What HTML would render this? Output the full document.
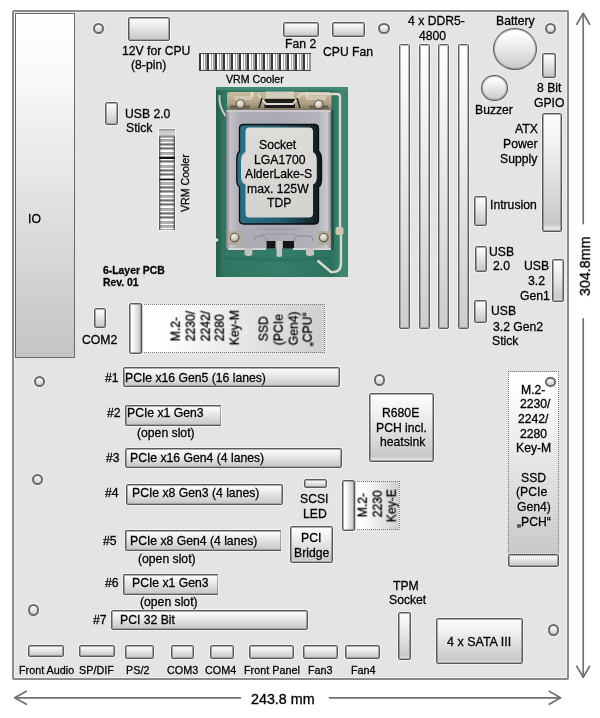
<!DOCTYPE html>
<html><head><meta charset="utf-8"><style>
*{margin:0;padding:0;box-sizing:border-box}
html,body{width:600px;height:718px;overflow:hidden;background:#fff}
body{position:relative;font-family:"Liberation Sans",sans-serif;color:#111}
div,svg{position:absolute}
.t{will-change:transform;white-space:nowrap;color:#000;-webkit-text-stroke:0.32px #000;text-shadow:0 0 1px rgba(255,255,255,.9),0 0 2px rgba(255,255,255,.6)}
.b{-webkit-text-stroke:0.3px #000}
.s{-webkit-text-stroke:0.3px #000}
.board{background:#e4e4e4;border:2px solid #8a8a8a;border-radius:2px;box-shadow:inset 0 0 0 1px rgba(255,255,255,.45)}
.io{background:linear-gradient(#fff,#f9f9f9 18%,#c4c4c4);border:1.3px solid #6a6a6a}
.c{background:linear-gradient(#fdfdfd,#f2f2f2 25%,#c9c9c9 94%,#e2e2e2 97%);border:1px solid #5a5a5a;border-radius:2px;box-shadow:inset 0 0 0 1px rgba(95,95,95,.5),0 0 0 1px rgba(255,255,255,.45)}
.ddr{background:linear-gradient(#fff,#cdcdcd);border:1px solid #5e5e5e;border-radius:1.5px;box-shadow:inset 0 0 0 1px rgba(100,100,100,.45),0 0 0 1px rgba(255,255,255,.45)}
.h{border-radius:50%;border:2px solid #6a6a6a;background:linear-gradient(#fbfbfb,#d2d2d2);box-shadow:0 0 0 1px #f2f2f2}
.bat{position:absolute;border-radius:50%;border:1px solid #5a5a5a;box-shadow:inset 0 0 0 1px rgba(100,100,100,.45);background:linear-gradient(#fefefe 10%,#e8e8e8 50%,#c8c8c8)}
.vrmh{background:repeating-linear-gradient(90deg,#383838 0 1.6px,#8c8c8c 1.6px 2.5px,#fdfdfd 2.5px 3.8px,#a0a0a0 3.8px 4.9px,#fdfdfd 4.9px 6.2px,#9a9a9a 6.2px 8px);border-top:1px solid #4a4a4a;border-bottom:1px solid #4a4a4a}
.vrmv{background:linear-gradient(90deg,rgba(0,0,0,.25),rgba(0,0,0,0) 15%,rgba(0,0,0,0) 85%,rgba(0,0,0,.25)),repeating-linear-gradient(180deg,#fdfdfd 0 1.3px,#a0a0a0 1.3px 2.3px,#707070 2.3px 2.9px,#b0b0b0 2.9px 4.3px);border-left:1px solid #5a5a5a;border-right:1px solid #5a5a5a;box-shadow:0 0 0 1px #f4f4f4}
.m2h{background:linear-gradient(90deg,#ffffff 10%,#cfcfcf);border:1px dotted #777}
.m2v{background:linear-gradient(#ffffff 5%,#c9c9c9);border:1px dotted #777}
.m2c{background:linear-gradient(90deg,#fdfdfd 25%,#c4c4c4)}
.open{border-right:none;border-radius:2px 0 0 2px}
.sock,.dims{left:0;top:0}
</style></head>
<body>
<div class="board" style="left:12.00px;top:10.00px;width:556.50px;height:669.50px;"></div>
<div class="io" style="left:15.00px;top:13.00px;width:59.50px;height:345.00px;"></div>
<div class="h" style="left:92.90px;top:22.50px;width:11.20px;height:11.20px;"></div>
<div class="h" style="left:378.40px;top:22.60px;width:11.20px;height:11.20px;"></div>
<div class="h" style="left:544.90px;top:22.70px;width:11.20px;height:11.20px;"></div>
<div class="h" style="left:33.70px;top:376.10px;width:11.20px;height:11.20px;"></div>
<div class="h" style="left:32.10px;top:473.70px;width:11.20px;height:11.20px;"></div>
<div class="h" style="left:27.70px;top:604.40px;width:11.20px;height:11.20px;"></div>
<div class="h" style="left:373.70px;top:374.40px;width:11.20px;height:11.20px;"></div>
<div class="h" style="left:547.60px;top:624.40px;width:11.20px;height:11.20px;"></div>
<div class="c" style="left:127.70px;top:17.30px;width:42.30px;height:23.40px;"></div>
<div class="c" style="left:282.50px;top:21.70px;width:36.30px;height:15.30px;"></div>
<div class="c" style="left:332.20px;top:21.70px;width:32.80px;height:15.30px;"></div>
<div class="vrmh" style="left:199.30px;top:53.00px;width:112.20px;height:17.80px;"></div>
<svg class="sock" style="left:216px;top:87px" width="132" height="190" viewBox="216 87 132 190">
<defs>
<linearGradient id="gframe" x1="0" x2="1" y1="0" y2="0"><stop offset="0" stop-color="#7c7d84"/><stop offset="0.04" stop-color="#c3c4ca"/><stop offset="0.12" stop-color="#adaeb6"/><stop offset="0.5" stop-color="#a9aab3"/><stop offset="0.88" stop-color="#b3b4bb"/><stop offset="0.96" stop-color="#cbcbd0"/><stop offset="1" stop-color="#7a7b82"/></linearGradient>
<linearGradient id="gihs" x1="0" x2="0" y1="0" y2="1"><stop offset="0" stop-color="#dedcd8"/><stop offset="1" stop-color="#d4d2ce"/></linearGradient>
<linearGradient id="gpcb" x1="0" x2="1" y1="0" y2="0"><stop offset="0" stop-color="#24604f"/><stop offset="0.07" stop-color="#307663"/><stop offset="0.5" stop-color="#357d6a"/><stop offset="0.88" stop-color="#2c7260"/><stop offset="0.95" stop-color="#3f8572"/><stop offset="1" stop-color="#3a8270"/></linearGradient>
<linearGradient id="gbr" x1="0" x2="0" y1="0" y2="1"><stop offset="0" stop-color="#c8bb9c"/><stop offset="0.6" stop-color="#b3a386"/><stop offset="1" stop-color="#7e7462"/></linearGradient>
<linearGradient id="gwin" x1="0" x2="1" y1="0" y2="0"><stop offset="0" stop-color="#2d6f88"/><stop offset="0.5" stop-color="#245c70"/><stop offset="1" stop-color="#0e1a20"/></linearGradient>
<radialGradient id="gscrew" cx="0.4" cy="0.35" r="0.7"><stop offset="0" stop-color="#f4f2ec"/><stop offset="0.6" stop-color="#c9c4b8"/><stop offset="1" stop-color="#6f695e"/></radialGradient>
</defs>
<rect x="216" y="87" width="132" height="190" fill="url(#gpcb)"/>
<path d="M216 87 H348 V90 H216Z" fill="#4d8c7b" opacity="0.7"/>
<path d="M223 120 V270" stroke="#3f7d6c" stroke-width="0.8"/>
<path d="M345 100 V275" stroke="#4a8a78" stroke-width="1.2"/>
<path d="M226 258 Q280 262 330 258" stroke="#2a6a58" stroke-width="3" fill="none" opacity="0.6"/>
<!-- top bracket -->
<path d="M227 95 Q227 92 230 92 H328 Q331 92 331.5 95 V110 H227 Z" fill="url(#gbr)"/>
<path d="M265.5 91.5 H294 V98 H265.5Z" fill="#d3cdbf"/>
<path d="M264.5 99 H295 V108 H264.5Z" fill="#1c1c1c"/>
<path d="M258 95 L266 104 H293 L300 95" stroke="#dcd8ce" stroke-width="2" fill="none"/>
<path d="M262 98 L259 108 M297 98 L300 108" stroke="#222" stroke-width="1.6"/>
<path d="M230 107 H250 M309 107 H328" stroke="#5e5648" stroke-width="3" opacity="0.8"/>
<path d="M234 96 H252 V100 H234Z M306 96 H326 V100 H306Z" fill="#d6cdb6" opacity="0.8"/>
<circle cx="240.5" cy="104" r="4.4" fill="url(#gscrew)" stroke="#4e4a42" stroke-width="0.9"/>
<circle cx="318.8" cy="104.5" r="4.4" fill="url(#gscrew)" stroke="#4e4a42" stroke-width="0.9"/>
<path d="M237 110 Q240 114 245 111" stroke="#222" stroke-width="1.5" fill="none"/>
<path d="M315 110 Q319 114 324 111" stroke="#222" stroke-width="1.5" fill="none"/>
<path d="M252 92 V97 M307 92 V97" stroke="#e2dccd" stroke-width="3"/>
<!-- left wire -->
<path d="M219.5 95 Q218.5 106 225.5 116" stroke="#d0d0d0" stroke-width="1.8" fill="none"/>
<!-- load plate -->
<path d="M226 110 H331.5 V248.5 H226 Z" fill="url(#gframe)"/>
<path d="M226.5 111 H331" stroke="#d0d1d6" stroke-width="1.6"/>
<!-- window -->
<path d="M243.5 124.5 H314.5 Q318.5 124.5 318.5 128.5 V151 Q321.5 154 321.5 159 V180 Q321.5 185 318.5 187 V220 Q318.5 224 314.5 224 H243.5 Q239.5 224 239.5 220 V187 Q236.8 185 236.8 180 V159 Q236.8 154 239.5 151 V128.5 Q239.5 124.5 243.5 124.5 Z" fill="url(#gwin)" stroke="#0c0c0c" stroke-width="1.3"/>
<!-- IHS -->
<path d="M249.5 127.5 H309 Q313 127.5 313 131.5 V152 Q316.8 154 316.8 160 V177 Q316.8 183 313 184.5 V213.5 Q313 217.5 309 217.5 H249.5 Q245.5 217.5 245.5 213.5 V184.5 Q241 183 241 177 V160 Q241 154 245.5 152 V131.5 Q245.5 127.5 249.5 127.5 Z" fill="url(#gihs)"/>
<path d="M241.5 160 Q242 155 245.5 153 M241.5 177 Q242 182 245.5 184" stroke="#b8b4aa" stroke-width="0.8" fill="none"/>
<!-- engraved text -->
<path d="M258 229 H300 M262 234 H296" stroke="#8f909a" stroke-width="1.2" stroke-dasharray="2 1"/>
<!-- bottom openings -->
<path d="M266.6 241 H275.4 V248.5 H266.6Z M283 241 H294 V248.5 H283Z" fill="#151515"/>
<path d="M276.5 241 H282 V256 Q279.2 258 276.5 256Z" fill="#c7c7c7"/>
<!-- screws -->
<rect x="228" y="231" width="13" height="14" fill="#b5ad9c"/>
<rect x="317.5" y="231" width="13" height="14" fill="#b5ad9c"/>
<circle cx="234.7" cy="237.6" r="4.4" fill="url(#gscrew)" stroke="#4e4a42" stroke-width="0.9"/>
<circle cx="323.8" cy="237.6" r="4.4" fill="url(#gscrew)" stroke="#4e4a42" stroke-width="0.9"/>
<!-- bottom wire + tabs -->
<path d="M228 249 H266 M293 249 H331" stroke="#d4d4d4" stroke-width="2"/>
<path d="M244.6 248 H252.3 V255 Q248.5 257 244.6 255Z M306 248 H314 V255 Q310 257 306 255Z" fill="#c2c2c2"/>
<path d="M254 241 Q254 236 259 236 H263 Q266 236 266.6 241 M294 241 Q294 236 299 236 H308 Q313 236 313 241" stroke="#84858c" stroke-width="1" fill="none"/>
<!-- lever -->
<path d="M332.5 110 V250" stroke="#1d5546" stroke-width="2.5"/>
<path d="M300 94 H337 Q340 94 340 97 V228 Q341 232 341 236 V263 Q341 273 331 272 L317.5 260.5" stroke="#dcd8cc" stroke-width="2.4" fill="none"/>
<path d="M341.4 97 V228" stroke="#8a8a8a" stroke-width="0.5"/>
<rect x="335.5" y="227" width="8" height="8" rx="2" fill="#cfc5ae"/>
<path d="M216 238 L219 240 L216 242Z" fill="#e8e8e8"/>
</svg>

<div class="ddr" style="left:398.80px;top:43.60px;width:10.90px;height:285.70px;"></div>
<div class="ddr" style="left:418.80px;top:43.60px;width:10.90px;height:285.70px;"></div>
<div class="ddr" style="left:438.30px;top:43.60px;width:10.90px;height:285.70px;"></div>
<div class="ddr" style="left:458.30px;top:43.60px;width:10.90px;height:285.70px;"></div>
<div class="bat" style="left:493.3px;top:28.2px;width:44.2px;height:42.2px;"></div>
<div class="c" style="left:542.20px;top:53.30px;width:13.70px;height:25.00px;"></div>
<div class="bat" style="left:481.3px;top:75px;width:26.7px;height:26.3px;"></div>
<div class="c" style="left:542.30px;top:113.40px;width:19.70px;height:119.10px;"></div>
<div class="c" style="left:473.50px;top:196.30px;width:13.50px;height:30.10px;"></div>
<div class="c" style="left:474.60px;top:246.00px;width:12.70px;height:25.60px;"></div>
<div class="c" style="left:552.00px;top:258.70px;width:11.90px;height:43.30px;"></div>
<div class="c" style="left:474.30px;top:300.30px;width:12.90px;height:22.70px;"></div>
<div class="c" style="left:104.90px;top:101.80px;width:13.50px;height:22.90px;"></div>
<div class="vrmv" style="left:159.10px;top:129.20px;width:16.20px;height:101.30px;"></div>
<div class="" style="left:159.10px;top:129.20px;width:16.20px;height:8.30px;background:linear-gradient(#888,#c8c8c8 30%,#d0d0d0 70%,#777)"></div>
<div class="" style="left:159.10px;top:157.20px;width:16.20px;height:1.70px;background:#111"></div>
<div class="" style="left:159.10px;top:178.60px;width:16.20px;height:1.60px;background:#111"></div>
<div class="c" style="left:94.00px;top:308.20px;width:11.80px;height:20.10px;"></div>
<div class="m2h" style="left:142.30px;top:303.70px;width:183.00px;height:49.80px;"></div>
<div class="c m2c" style="left:129.30px;top:303.40px;width:13.00px;height:50.20px;"></div>
<div class="c pcie" style="left:122.50px;top:367.00px;width:217.90px;height:20.40px;"></div>
<div class="c pcie open" style="left:125.10px;top:404.50px;width:96.20px;height:21.10px;"></div>
<div class="c pcie" style="left:124.80px;top:447.60px;width:216.90px;height:20.40px;"></div>
<div class="c pcie" style="left:125.60px;top:484.30px;width:157.20px;height:20.50px;"></div>
<div class="c pcie open" style="left:124.50px;top:530.20px;width:156.20px;height:20.70px;"></div>
<div class="c pcie open" style="left:123.30px;top:574.10px;width:94.50px;height:20.60px;"></div>
<div class="c pcie" style="left:111.00px;top:610.00px;width:197.00px;height:20.40px;"></div>
<div class="c big" style="left:368.60px;top:393.10px;width:65.20px;height:68.80px;"></div>
<div class="c" style="left:303.50px;top:479.40px;width:23.90px;height:9.10px;"></div>
<div class="c big" style="left:290.00px;top:526.40px;width:42.90px;height:36.90px;"></div>
<div class="m2h" style="left:354.60px;top:480.50px;width:45.80px;height:49.80px;"></div>
<div class="c m2c" style="left:342.10px;top:480.30px;width:12.70px;height:50.50px;"></div>
<div class="m2v" style="left:508.20px;top:371.30px;width:50.80px;height:182.30px;"></div>
<div class="c" style="left:508.10px;top:554.20px;width:50.80px;height:13.00px;"></div>
<div class="h" style="left:545.30px;top:376.50px;width:10.80px;height:10.80px;"></div>
<div class="c" style="left:397.80px;top:611.90px;width:13.30px;height:48.30px;"></div>
<div class="c big" style="left:436.30px;top:618.20px;width:86.40px;height:45.90px;"></div>
<div class="c" style="left:27.60px;top:645.30px;width:36.90px;height:12.10px;"></div>
<div class="c" style="left:79.00px;top:645.30px;width:36.30px;height:12.10px;"></div>
<div class="c" style="left:125.00px;top:644.80px;width:29.00px;height:14.50px;"></div>
<div class="c" style="left:170.80px;top:645.20px;width:23.20px;height:14.00px;"></div>
<div class="c" style="left:210.00px;top:645.00px;width:24.00px;height:14.20px;"></div>
<div class="c" style="left:249.20px;top:645.00px;width:44.80px;height:14.20px;"></div>
<div class="c" style="left:302.80px;top:645.00px;width:35.20px;height:14.20px;"></div>
<div class="c" style="left:344.80px;top:645.00px;width:35.20px;height:14.20px;"></div>
<svg class="dims" width="600" height="718" viewBox="0 0 600 718">
<g stroke="#727272" stroke-width="1.7" fill="none" stroke-linecap="round" stroke-linejoin="round">
<line x1="583.2" y1="13.5" x2="583.2" y2="223.6"/>
<line x1="583.2" y1="318.8" x2="583.2" y2="677"/>
<polyline points="576.8,24.3 583.2,13.3 589.6,24.3"/>
<polyline points="576.8,666.3 583.2,677.2 589.6,666.3"/>
<line x1="14.8" y1="697.8" x2="240.5" y2="697.8"/>
<line x1="329.5" y1="697.8" x2="560.3" y2="697.8"/>
<polyline points="26.4,691.3 14.6,697.8 26.4,704.3"/>
<polyline points="549.3,691.3 560.5,697.8 549.3,704.3"/>
</g></svg>
<div class="t" style="left:28.10px;top:212.57px;font-size:12.2px;line-height:12.2px;">IO</div>
<div class="t" style="left:121.52px;top:44.97px;font-size:12.2px;line-height:12.2px;">12V for CPU</div>
<div class="t" style="left:130.98px;top:59.07px;font-size:12.2px;line-height:12.2px;">(8-pin)</div>
<div class="t" style="left:285.00px;top:38.47px;font-size:12.2px;line-height:12.2px;">Fan 2</div>
<div class="t" style="left:323.30px;top:45.67px;font-size:12.2px;line-height:12.2px;">CPU Fan</div>
<div class="t s" style="left:225.51px;top:74.23px;font-size:10.6px;line-height:10.6px;">VRM Cooler</div>
<div class="t" style="left:259.44px;top:138.67px;font-size:12.2px;line-height:12.2px;">Socket</div>
<div class="t" style="left:254.26px;top:153.67px;font-size:12.2px;line-height:12.2px;">LGA1700</div>
<div class="t" style="left:244.66px;top:167.97px;font-size:12.2px;line-height:12.2px;">AlderLake-S</div>
<div class="t" style="left:247.10px;top:183.37px;font-size:12.2px;line-height:12.2px;">max. 125W</div>
<div class="t" style="left:266.61px;top:197.17px;font-size:12.2px;line-height:12.2px;">TDP</div>
<div class="t" style="left:408.34px;top:15.27px;font-size:12.2px;line-height:12.2px;">4 x DDR5-</div>
<div class="t" style="left:418.60px;top:29.67px;font-size:12.2px;line-height:12.2px;">4800</div>
<div class="t" style="left:495.64px;top:14.67px;font-size:12.2px;line-height:12.2px;">Battery</div>
<div class="t" style="left:536.54px;top:82.47px;font-size:12.2px;line-height:12.2px;">8 Bit</div>
<div class="t" style="left:533.73px;top:96.67px;font-size:12.2px;line-height:12.2px;">GPIO</div>
<div class="t" style="left:475.46px;top:103.87px;font-size:12.2px;line-height:12.2px;">Buzzer</div>
<div class="t" style="left:515.04px;top:123.47px;font-size:12.2px;line-height:12.2px;">ATX</div>
<div class="t" style="left:502.80px;top:137.67px;font-size:12.2px;line-height:12.2px;">Power</div>
<div class="t" style="left:500.35px;top:152.77px;font-size:12.2px;line-height:12.2px;">Supply</div>
<div class="t" style="left:489.50px;top:199.07px;font-size:12.2px;line-height:12.2px;">Intrusion</div>
<div class="t" style="left:489.32px;top:245.57px;font-size:12.2px;line-height:12.2px;">USB</div>
<div class="t" style="left:493.29px;top:260.47px;font-size:12.2px;line-height:12.2px;">2.0</div>
<div class="t" style="left:524.42px;top:260.07px;font-size:12.2px;line-height:12.2px;">USB</div>
<div class="t" style="left:528.47px;top:275.47px;font-size:12.2px;line-height:12.2px;">3.2</div>
<div class="t" style="left:519.60px;top:289.67px;font-size:12.2px;line-height:12.2px;">Gen1</div>
<div class="t" style="left:490.62px;top:305.47px;font-size:12.2px;line-height:12.2px;">USB</div>
<div class="t" style="left:492.50px;top:320.97px;font-size:12.2px;line-height:12.2px;">3.2 Gen2</div>
<div class="t" style="left:491.88px;top:334.67px;font-size:12.2px;line-height:12.2px;">Stick</div>
<div class="t" style="left:125.48px;top:107.77px;font-size:12.2px;line-height:12.2px;">USB 2.0</div>
<div class="t" style="left:125.93px;top:121.77px;font-size:12.2px;line-height:12.2px;">Stick</div>
<div class="t b" style="left:103.14px;top:265.60px;font-size:10.4px;line-height:10.4px;font-weight:bold;">6-Layer PCB</div>
<div class="t b" style="left:103.00px;top:277.60px;font-size:10.4px;line-height:10.4px;font-weight:bold;">Rev. 01</div>
<div class="t" style="left:82.35px;top:334.37px;font-size:12.2px;line-height:12.2px;">COM2</div>
<div class="t" style="left:104.55px;top:371.87px;font-size:12.2px;line-height:12.2px;">#1</div>
<div class="t" style="left:106.90px;top:407.47px;font-size:12.2px;line-height:12.2px;">#2</div>
<div class="t" style="left:106.36px;top:452.07px;font-size:12.2px;line-height:12.2px;">#3</div>
<div class="t" style="left:104.67px;top:486.87px;font-size:12.2px;line-height:12.2px;">#4</div>
<div class="t" style="left:103.19px;top:534.57px;font-size:12.2px;line-height:12.2px;">#5</div>
<div class="t" style="left:104.69px;top:577.47px;font-size:12.2px;line-height:12.2px;">#6</div>
<div class="t" style="left:93.25px;top:614.47px;font-size:12.2px;line-height:12.2px;">#7</div>
<div class="t" style="left:137.34px;top:427.07px;font-size:12.2px;line-height:12.2px;">(open slot)</div>
<div class="t" style="left:138.14px;top:553.27px;font-size:12.2px;line-height:12.2px;">(open slot)</div>
<div class="t" style="left:140.41px;top:596.17px;font-size:12.2px;line-height:12.2px;">(open slot)</div>
<div class="t" style="left:381.96px;top:406.92px;font-size:12.2px;line-height:12.2px;">R680E</div>
<div class="t" style="left:375.88px;top:421.57px;font-size:12.2px;line-height:12.2px;">PCH incl.</div>
<div class="t" style="left:379.78px;top:435.92px;font-size:12.2px;line-height:12.2px;">heatsink</div>
<div class="t" style="left:299.65px;top:493.27px;font-size:12.2px;line-height:12.2px;">SCSI</div>
<div class="t" style="left:303.00px;top:507.67px;font-size:12.2px;line-height:12.2px;">LED</div>
<div class="t" style="left:301.38px;top:532.37px;font-size:12.2px;line-height:12.2px;">PCI</div>
<div class="t" style="left:293.60px;top:546.77px;font-size:12.2px;line-height:12.2px;">Bridge</div>
<div class="t" style="left:521.22px;top:383.77px;font-size:12.2px;line-height:12.2px;">M.2-</div>
<div class="t" style="left:519.52px;top:398.27px;font-size:12.2px;line-height:12.2px;">2230/</div>
<div class="t" style="left:517.77px;top:412.97px;font-size:12.2px;line-height:12.2px;">2242/</div>
<div class="t" style="left:519.70px;top:427.97px;font-size:12.2px;line-height:12.2px;">2280</div>
<div class="t" style="left:516.13px;top:442.37px;font-size:12.2px;line-height:12.2px;">Key-M</div>
<div class="t" style="left:521.02px;top:471.87px;font-size:12.2px;line-height:12.2px;">SSD</div>
<div class="t" style="left:515.86px;top:486.47px;font-size:12.2px;line-height:12.2px;">(PCIe</div>
<div class="t" style="left:517.01px;top:500.97px;font-size:12.2px;line-height:12.2px;">Gen4)</div>
<div class="t" style="left:517.03px;top:516.27px;font-size:12.2px;line-height:12.2px;">„PCH“</div>
<div class="t" style="left:392.55px;top:579.87px;font-size:12.2px;line-height:12.2px;">TPM</div>
<div class="t" style="left:389.39px;top:593.87px;font-size:12.2px;line-height:12.2px;">Socket</div>
<div class="t" style="left:446.76px;top:636.22px;font-size:12.5px;line-height:12.5px;">4 x SATA III</div>
<div class="t s" style="left:18.85px;top:664.86px;font-size:10.8px;line-height:10.8px;">Front Audio</div>
<div class="t s" style="left:79.25px;top:664.86px;font-size:10.8px;line-height:10.8px;">SP/DIF</div>
<div class="t s" style="left:126.36px;top:664.86px;font-size:10.8px;line-height:10.8px;">PS/2</div>
<div class="t s" style="left:167.32px;top:664.86px;font-size:10.8px;line-height:10.8px;">COM3</div>
<div class="t s" style="left:205.27px;top:664.86px;font-size:10.8px;line-height:10.8px;">COM4</div>
<div class="t s" style="left:244.19px;top:664.86px;font-size:10.8px;line-height:10.8px;">Front Panel</div>
<div class="t s" style="left:307.86px;top:664.86px;font-size:10.8px;line-height:10.8px;">Fan3</div>
<div class="t s" style="left:350.60px;top:664.86px;font-size:10.8px;line-height:10.8px;">Fan4</div>
<div class="t" style="left:250.83px;top:692.40px;font-size:14.3px;line-height:14.3px;">243.8 mm</div>
<div class="t" style="left:124.92px;top:371.87px;font-size:12.2px;line-height:12.2px;">PCIe x16 Gen5 (16 lanes)</div>
<div class="t" style="left:127.02px;top:407.47px;font-size:12.2px;line-height:12.2px;">PCIe x1 Gen3</div>
<div class="t" style="left:130.42px;top:452.07px;font-size:12.2px;line-height:12.2px;">PCIe x16 Gen4 (4 lanes)</div>
<div class="t" style="left:132.02px;top:486.87px;font-size:12.2px;line-height:12.2px;">PCIe x8 Gen3 (4 lanes)</div>
<div class="t" style="left:129.92px;top:534.57px;font-size:12.2px;line-height:12.2px;">PCIe x8 Gen4 (4 lanes)</div>
<div class="t" style="left:131.52px;top:577.47px;font-size:12.2px;line-height:12.2px;">PCIe x1 Gen3</div>
<div class="t" style="left:120.02px;top:614.47px;font-size:12.2px;line-height:12.2px;">PCI 32 Bit</div>
<div class="t s" style="left:188.60px;top:202.62px;font-size:10.6px;line-height:10.6px;transform-origin:0 8.973px;transform:rotate(-90deg);">VRM Cooler</div>
<div class="t" style="left:180.20px;top:330.75px;font-size:12.2px;line-height:12.2px;transform-origin:0 10.327px;transform:rotate(-90deg);">M.2-</div>
<div class="t" style="left:195.00px;top:330.56px;font-size:12.2px;line-height:12.2px;transform-origin:0 10.327px;transform:rotate(-90deg);">2230/</div>
<div class="t" style="left:209.60px;top:330.56px;font-size:12.2px;line-height:12.2px;transform-origin:0 10.327px;transform:rotate(-90deg);">2242/</div>
<div class="t" style="left:224.10px;top:331.18px;font-size:12.2px;line-height:12.2px;transform-origin:0 10.327px;transform:rotate(-90deg);">2280</div>
<div class="t" style="left:238.90px;top:335.34px;font-size:12.2px;line-height:12.2px;transform-origin:0 10.327px;transform:rotate(-90deg);">Key-M</div>
<div class="t" style="left:268.00px;top:331.05px;font-size:12.2px;line-height:12.2px;transform-origin:0 10.327px;transform:rotate(-90deg);">SSD</div>
<div class="t" style="left:282.90px;top:335.01px;font-size:12.2px;line-height:12.2px;transform-origin:0 10.327px;transform:rotate(-90deg);">(PCIe</div>
<div class="t" style="left:297.50px;top:335.26px;font-size:12.2px;line-height:12.2px;transform-origin:0 10.327px;transform:rotate(-90deg);">Gen4)</div>
<div class="t" style="left:312.30px;top:335.60px;font-size:12.2px;line-height:12.2px;transform-origin:0 10.327px;transform:rotate(-90deg);">„CPU“</div>
<div class="t" style="left:366.60px;top:507.15px;font-size:12.2px;line-height:12.2px;transform-origin:0 10.327px;transform:rotate(-90deg);">M.2-</div>
<div class="t" style="left:381.60px;top:507.18px;font-size:12.2px;line-height:12.2px;transform-origin:0 10.327px;transform:rotate(-90deg);">2230</div>
<div class="t" style="left:396.00px;top:511.60px;font-size:12.2px;line-height:12.2px;transform-origin:0 10.327px;transform:rotate(-90deg);">Key-E</div>
<div class="t" style="left:590.00px;top:284.11px;font-size:14.3px;line-height:14.3px;transform-origin:0 12.105px;transform:rotate(-90deg);">304.8mm</div>
</body></html>
